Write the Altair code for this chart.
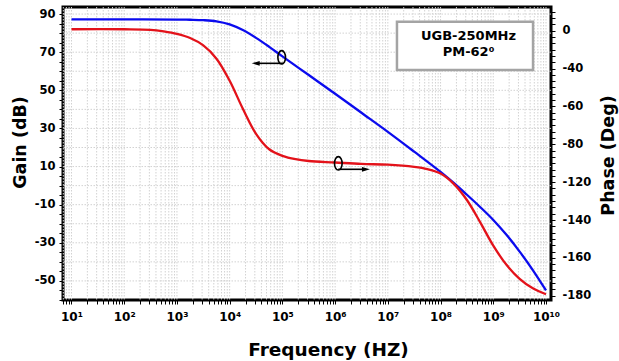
import altair as alt
import pandas as pd

# ---- data ----
freq_gain = [10, 100, 1000, 1778, 3162, 5623, 1e4, 17783, 31623, 56234, 1e5, 3.162e5, 1e6,
             3.162e6, 1e7, 3.162e7, 1e8, 1.778e8, 3.162e8, 5.623e8, 1e9, 1.778e9,
             3.162e9, 5.623e9, 1e10]
gain_db = [87.2, 87.2, 87.1, 87.0, 86.8, 86.2, 84.6, 81.6, 77.5, 72.8, 67.8, 58.0, 48.2,
           38.2, 28.2, 17.8, 7.2, 1.4, -4.8, -11.2, -18.0, -25.8,
           -34.6, -44.3, -55.0]

freq_phase = [10, 100, 316, 562, 1000, 1778, 3162, 5623, 1e4, 17783, 31623, 56234, 1e5,
              17783e1, 3.162e5, 1e6, 3.162e6, 1e7, 3.162e7, 5.623e7, 1e8, 1.778e8,
              3.162e8, 5.623e8, 1e9, 1.778e9, 3.162e9, 5.623e9, 1e10]
phase_deg = [1, 1, 0.6, -0.5, -2.2, -5, -10, -19, -34, -53, -70, -80.5, -85,
             -87.3, -88.5, -89.5, -90.5, -91, -92.5, -94, -97, -104,
             -115, -130, -146, -159, -168.5, -175, -179]

phase_tick_labels = ["0", "-40", "-60", "-80", "-120", "-140", "-160", "-180"]
decade_sup = ["\u2070", "\u00b9", "\u00b2", "\u00b3", "\u2074", "\u2075", "\u2076",
              "\u2077", "\u2078", "\u2079", "\u00b9\u2070"]

# annotation anchors (data units)
box_freq = [1.49e7, 5.68e9]
box_gain = [86.0, 60.6]
box_text = ["UGB-250MHz", "PM-62\u2070"]
box_text_freq = [3.39e8, 3.39e8]
box_text_gain = [78.6, 69.9]
ellipse_freq = [9.7e4, 1.15e6]
ellipse_gain = [67.3, 11.7]
arrow_from = [1.03e5, 1.15e6]
arrow_to = [3.12e4, 3.84e6]
arrow_gain = [64.15, 8.56]
arrow_dir = ["left", "right"]

X_DOMAIN = [6.9, 1.244e10]
GAIN_DOMAIN = [-60, 93.7]
PHASE_DOMAIN = [-182.9, 16.1]

grid_x = [k * 10 ** n for n in range(0, 11) for k in range(1, 10)
          if X_DOMAIN[0] <= k * 10 ** n <= X_DOMAIN[1]]
grid_y = list(range(-50, 91, 10))
gain_ticks = list(range(-60, 91, 5))
phase_ticks = [-k * 180 / 42 for k in range(-3, 43)]

FONT = "DejaVu Sans"

xscale = alt.Scale(type="log", domain=X_DOMAIN, nice=False)
gscale = alt.Scale(domain=GAIN_DOMAIN, nice=False, zero=False)
pscale = alt.Scale(domain=PHASE_DOMAIN, nice=False, zero=False)

gain_df = pd.DataFrame({"f": freq_gain, "g": gain_db})
phase_df = pd.DataFrame({"f": freq_phase, "p": phase_deg})

x_expr = ("abs(log(datum.value)/LN10 - round(log(datum.value)/LN10)) < 0.000001 ? "
          "'10' + " + str(decade_sup).replace('"', "'") + "[round(log(datum.value)/LN10)] : ''")

x_axis = alt.Axis(values=grid_x, labelExpr=x_expr, grid=False, domain=False,
                  tickSize=4, labelPadding=7, labelOverlap=False, labelFlush=False,
                  labelFontSize=12, title="Frequency (HZ)", titleX=265, titleY=55,
                  titleAlign="center", titleBaseline="alphabetic", titleFontSize=18.5)

gain_axis = alt.Axis(values=gain_ticks,
                     labelExpr="(90 - datum.value) % 20 == 0 ? ('' + datum.value) : ''",
                     grid=False, domain=False, tickSize=4, labelPadding=4,
                     labelOverlap=False, labelFontSize=11.5,
                     title="Gain (dB)", titleX=-43, titleY=135, titleAngle=270,
                     titleAlign="center", titleBaseline="middle", titleFontSize=17.5)

p_expr = ("(round(-datum.value*7/30) % 6 == 0 && round(-datum.value*7/30) >= 0) ? "
          + str(phase_tick_labels).replace('"', "'") + "[round(-datum.value*7/30)/6] : ''")
phase_axis = alt.Axis(orient="right", values=phase_ticks, labelExpr=p_expr,
                      grid=False, domain=False, tickSize=4, labelPadding=7,
                      labelOverlap=False, labelFontSize=11.5,
                      title="Phase (Deg)", titleX=57, titleY=148, titleAngle=270,
                      titleAlign="center", titleBaseline="middle", titleFontSize=17.5)

grid_style = dict(color="#d2d2d2", strokeDash=[1.5, 1.5], strokeWidth=1)

vgrid = alt.Chart(pd.DataFrame({"f": grid_x})).mark_rule(**grid_style).encode(
    x=alt.X("f:Q", scale=xscale, axis=x_axis))
hgrid = alt.Chart(pd.DataFrame({"g": grid_y})).mark_rule(**grid_style).encode(
    y=alt.Y("g:Q", scale=gscale, axis=None))

box = alt.Chart(pd.DataFrame({"f1": [box_freq[0]], "f2": [box_freq[1]],
                              "g1": [box_gain[0]], "g2": [box_gain[1]]})).mark_rect(
    fill="white", stroke="#a4a4a4", strokeWidth=2.5).encode(
    x=alt.X("f1:Q", scale=xscale), x2="f2:Q",
    y=alt.Y("g1:Q", scale=gscale, axis=None), y2="g2:Q")

box_txt = alt.Chart(pd.DataFrame({"f": box_text_freq, "g": box_text_gain, "t": box_text})).mark_text(
    font=FONT, fontWeight="bold", fontSize=13, color="black", baseline="middle", align="center").encode(
    x=alt.X("f:Q", scale=xscale), y=alt.Y("g:Q", scale=gscale, axis=None), text="t:N")

blue = alt.Chart(gain_df).mark_line(color="#0b0bee", strokeWidth=2.3, interpolate="catmull-rom").encode(
    x=alt.X("f:Q", scale=xscale), y=alt.Y("g:Q", scale=gscale, axis=gain_axis))

ELLIPSE = ("M0,-1C0.315,-1,0.57,-0.552,0.57,0C0.57,0.552,0.315,1,0,1"
           "C-0.315,1,-0.57,0.552,-0.57,0C-0.57,-0.552,-0.315,-1,0,-1Z")
ellipses = alt.Chart(pd.DataFrame({"f": ellipse_freq, "g": ellipse_gain})).mark_point(
    shape=ELLIPSE, size=180, filled=False, stroke="black", strokeWidth=1.6, opacity=1).encode(
    x=alt.X("f:Q", scale=xscale), y=alt.Y("g:Q", scale=gscale, axis=None))

arrow_df = pd.DataFrame({"f1": arrow_from, "f2": arrow_to, "g": arrow_gain, "d": arrow_dir})
arrow_lines = alt.Chart(arrow_df).mark_rule(color="black", strokeWidth=1.6).encode(
    x=alt.X("f1:Q", scale=xscale), x2="f2:Q", y=alt.Y("g:Q", scale=gscale, axis=None))
head_left = alt.Chart(arrow_df[arrow_df.d == "left"]).mark_point(
    shape="M-1,0L1,-0.6L1,0.6Z", size=64, filled=True, color="black", opacity=1).encode(
    x=alt.X("f2:Q", scale=xscale), y=alt.Y("g:Q", scale=gscale, axis=None))
head_right = alt.Chart(arrow_df[arrow_df.d == "right"]).mark_point(
    shape="M1,0L-1,-0.6L-1,0.6Z", size=64, filled=True, color="black", opacity=1).encode(
    x=alt.X("f2:Q", scale=xscale), y=alt.Y("g:Q", scale=gscale, axis=None))

red = alt.Chart(phase_df).mark_line(color="#e3121a", strokeWidth=2.3, interpolate="catmull-rom").encode(
    x=alt.X("f:Q", scale=xscale), y=alt.Y("p:Q", scale=pscale, axis=phase_axis))

chart = alt.layer(vgrid, hgrid, box, box_txt, blue, red, ellipses, arrow_lines,
                  head_left, head_right).resolve_scale(y="independent").properties(
    width=488, height=293,
    padding={"left": 63, "top": 7, "right": 68, "bottom": 61},
    autosize=alt.AutoSizeParams(type="none"),
    background="white",
).configure_view(stroke="black", strokeWidth=3).configure_axis(
    labelFont=FONT, labelFontWeight="bold", labelColor="black",
    titleFont=FONT, titleFontWeight="bold", titleColor="black",
    tickColor="black", tickWidth=1)

chart.save("out.html", embed_options={"renderer": "svg", "actions": False})
